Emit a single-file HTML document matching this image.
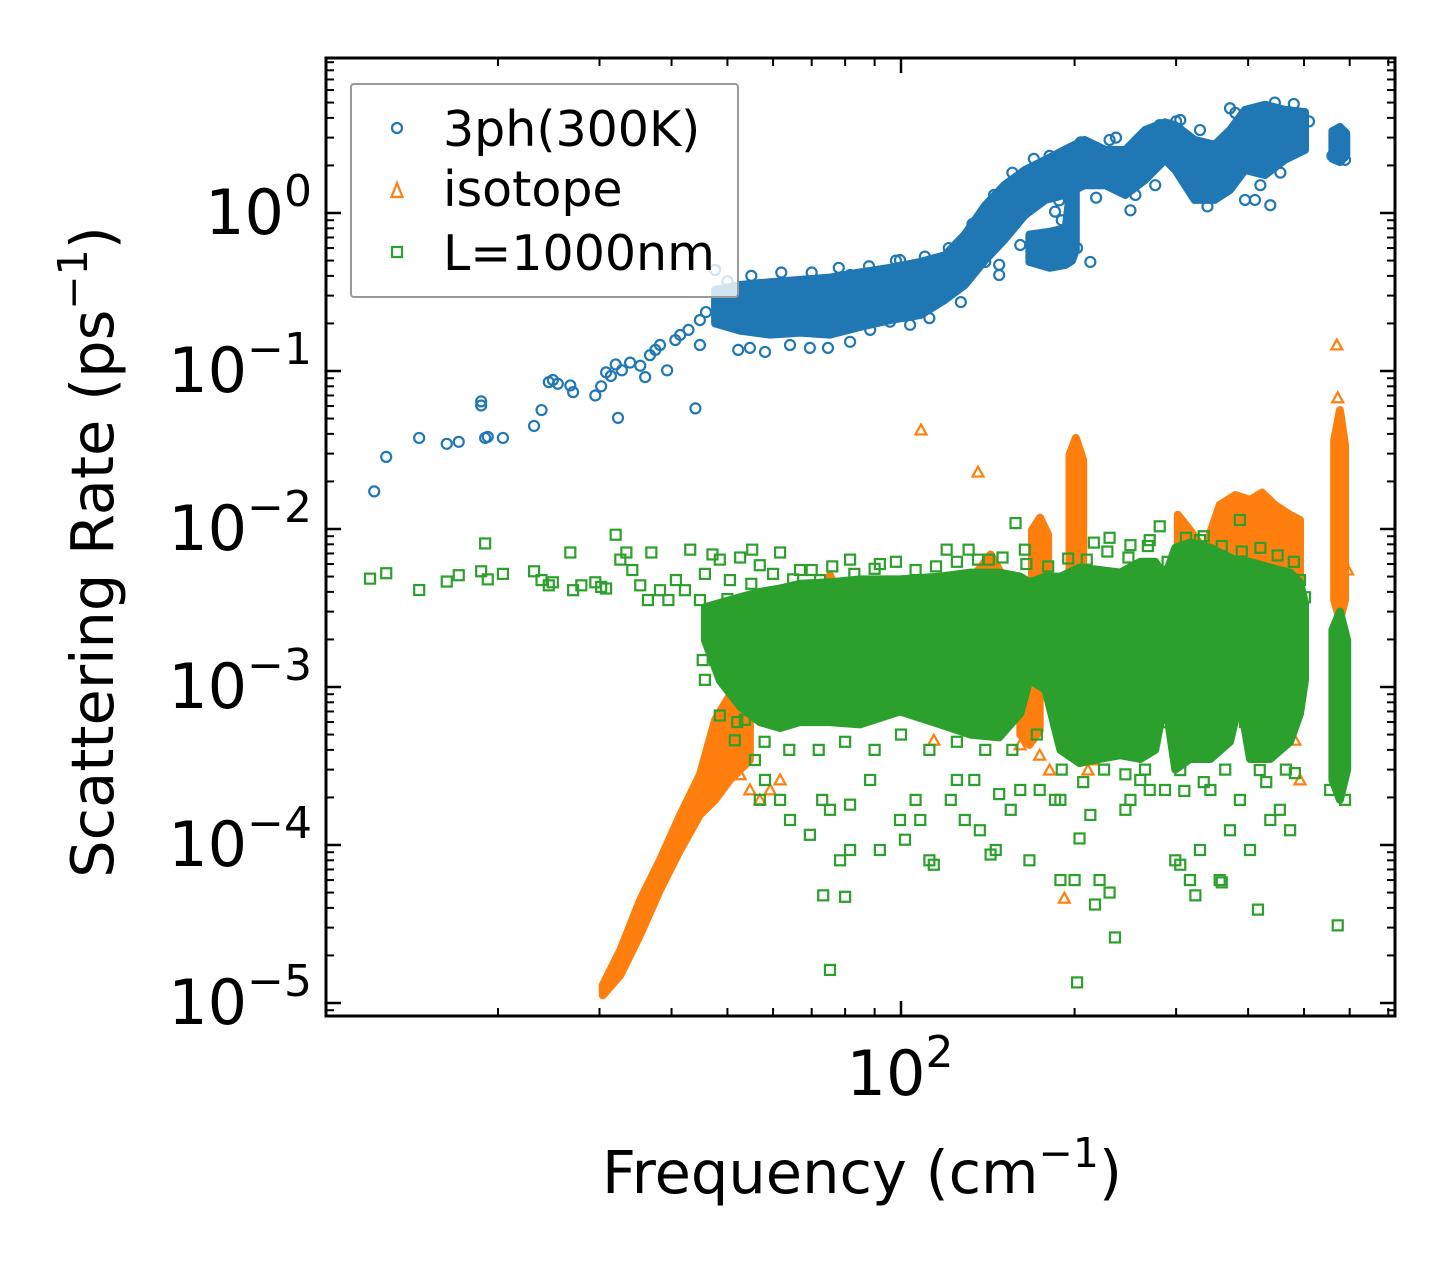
<!DOCTYPE html>
<html><head><meta charset="utf-8"><style>
body{margin:0;background:#fff}
svg{display:block;font-family:"DejaVu Sans","Liberation Sans",sans-serif}
</style></head><body>
<svg id="chart" width="1455" height="1265" viewBox="0 0 1455 1265" xmlns="http://www.w3.org/2000/svg">
<rect width="1455" height="1265" fill="#fff"/>
<g id="marks"></g>
<g id="axes"></g>
</svg>
<script>
// ---------- data ----------
const blueBandFreq=[47.6,52.6,59.3,66.8,75.3,84.9,95.7,108,119,129,140,151,164,178,192,208,226,245,265,287,299,323,350,372,395,428,463,502];
const blueBandHi=[0.326,0.35,0.365,0.377,0.39,0.42,0.45,0.49,0.54,0.73,1.12,1.5,1.87,2.17,2.51,2.9,2.51,2.51,3.35,3.75,3.6,2.9,2.7,3.35,4.49,4.85,4.49,4.35];
const blueBandLo=[0.2,0.18,0.17,0.175,0.17,0.19,0.21,0.226,0.281,0.35,0.504,0.675,0.97,1.21,1.3,1.5,1.5,1.3,1.62,2.17,1.87,1.21,1.21,1.4,1.87,1.74,2.17,2.51];
const blueLoopFreq=[167,181,193,198,201];
const blueLoopHi=[0.73,0.76,0.8,1.8,2.0];
const blueLoopLo=[0.49,0.45,0.47,0.5,0.583];
const blueEdgeFreq=[560,577,592];
const blueEdgeHi=[3.3,3.5,3.2];
const blueEdgeLo=[2.2,2.1,2.3];
const blueFreq=[12.2,12.8,14.6,16.3,17.1,18.7,18.7,19.0,19.2,20.4,23.1,23.8,24.5,24.9,25.4,26.7,27.0,29.5,30.2,30.8,31.4,32.0,32.3,32.8,33.9,35.3,36.0,36.7,37.5,38.2,39.3,40.6,41.4,42.8,44.0,44.8,44.8,45.9,47.6,48.9,50.5,52.2,54.7,58.1,64.2,69.5,74.7,81.6,88.4,95.7,103.7,112,117,127,140,148,161,174,185,213,202,250,276,287,311,350,395,411,437,403,445,372,473,492,305,281,181,196,230,260,330,577,589,560,148,99.6,81.6,72.4,56.9,59.3,91.9,
50,55,62,70,78,88,98,110,121,133,145,156,170,185,188,190,205,218,236,255,300,340,380,420,455,480,510];
const blueRate=[0.0173,0.0286,0.0377,0.0346,0.0356,0.0642,0.0605,0.0377,0.0383,0.0377,0.0449,0.0566,0.085,0.0877,0.083,0.081,0.0735,0.07,0.08,0.098,0.093,0.11,0.0505,0.101,0.113,0.108,0.0915,0.126,0.136,0.146,0.101,0.157,0.169,0.182,0.058,0.21,0.146,0.236,0.436,0.281,0.226,0.136,0.14,0.132,0.146,0.14,0.14,0.153,0.182,0.205,0.196,0.216,0.316,0.273,0.49,0.405,0.627,0.504,1.02,0.49,0.6,1.04,1.5,2.58,2.51,1.5,1.21,1.21,1.12,2.9,5.0,4.6,4.17,4.17,3.88,3.6,2.3,2.3,2.9,2.33,3.35,3.1,2.17,2.3,0.47,0.504,0.405,0.35,0.35,0.182,0.262,
0.37,0.4,0.42,0.42,0.45,0.46,0.5,0.53,0.6,0.85,1.3,1.8,2.2,0.75,1.2,0.9,2.8,1.25,3.0,1.3,3.8,1.1,4.3,1.5,1.8,4.9,3.8];

const orangeBandFreq=[[30.4,32.6,35.3,38.2,41.4,44.8,47.6,50.5,54.7],[196,201,207],[168.7,174.2,180],[302,317,336,357,380,403,423,445,473,492],[564,577,589],[73,75.3,77.8],[134,143,151.5],[161,167,174]];
const orangeBandHi=[[1.3e-5,2.16e-5,4.49e-5,8.04e-5,1.55e-4,2.78e-4,6.2e-4,8.9e-4,9.6e-4],[0.0295,0.0377,0.0273],[0.00986,0.0118,0.0092],[0.0123,0.00986,0.00736,0.0142,0.0164,0.0153,0.017,0.0142,0.0123,0.0114],[0.0366,0.0566,0.034],[0.0041,0.0051,0.0038],[0.0051,0.0069,0.00475],[0.00111,0.00111,0.00111]];
const orangeBandLo=[[1.12e-5,1.5e-5,2.7e-5,5.19e-5,9.3e-5,1.55e-4,1.93e-4,2.58e-4,3.45e-4],[0.00198,0.00171,0.00198],[0.00198,0.00198,0.00198],[0.00148,0.00148,0.00148,0.00148,0.00148,0.00148,0.00148,0.00148,0.00148,0.00148],[0.00355,0.00265,0.00355],[0.00111,0.00111,0.00111],[0.00096,0.00096,0.00096],[0.0005,0.00043,0.00053]];
const orangeFreq=[108.3,136,570,572,192,211,216,181,492,482,463,583,595,61.7,59.3,56.9,54.7,52.6,72.4,148,174,161,260,127,114];
const orangeRate=[0.0423,0.0229,0.146,0.0676,4.6e-5,2.98e-4,3.45e-4,2.98e-4,2.58e-4,4.6e-4,9.6e-4,0.0064,0.0055,2.58e-4,2.23e-4,1.93e-4,2.23e-4,2.78e-4,0.00307,0.00475,3.7e-4,4.3e-4,5.3e-4,5.8e-4,4.6e-4];

const greenBandFreq=[[45.7,48.5,52.6,56.9,61.7,66.8,75.3,84.9,99.6,117,132,148,161,167,178,189,204,221,240,260,276,287,299,317,344,372,387,403,437,473,492,502],[560,577,594]];
const greenBandHi=[[0.0032,0.0034,0.0037,0.004,0.0042,0.0045,0.0046,0.0048,0.0048,0.005,0.0053,0.0053,0.005,0.0046,0.005,0.005,0.0057,0.0055,0.0053,0.0062,0.0062,0.005,0.0076,0.0082,0.0076,0.0066,0.0062,0.0062,0.0057,0.0053,0.0046,0.0034],[0.0023,0.003,0.00198]];
const greenBandLo=[[0.00198,0.0011,0.00075,0.0006,0.00055,0.0006,0.0006,0.00058,0.0007,0.00058,0.0005,0.00048,0.00068,0.00111,0.00096,0.0004,0.00033,0.00035,0.00037,0.00035,0.0004,0.00083,0.0003,0.00035,0.00035,0.00045,0.00083,0.00035,0.00035,0.00045,0.00068,0.00111],[0.000258,0.000193,0.0003]];
const greenFreq=[12.0,12.8,14.6,16.3,17.1,18.7,19.0,19.2,20.4,23.1,23.8,24.5,24.9,26.7,27.0,27.9,29.5,30.2,30.8,32.0,32.6,33.4,34.2,35.3,36.4,36.9,38.2,39.5,40.7,42.2,43.1,44.8,45.7,47.1,48.5,50.5,52.6,55.2,56.9,61.7,66.8,72.4,81.6,91.9,
46.7,45.3,45.7,47.6,48.5,51.5,53.6,55.8,58.1,61.7,64.2,69.5,73.0,75.3,78.4,80.0,73.3,81.6,88.4,91.9,99.6,101.6,106,108,112,114,122,125,129,134,137,143,146,155,161,167,174,185,189,200,202,204,213,217,221,230,235,245,250,260,270,287,299,305,317,324,330,344,357,360,372,387,403,416,437,454,473,482,492,572,589,555,189,148,75.3,81.6,56.9,305,419,
158,281,250,216,196,142,120,131,164,270,330,387,230,492,502,492,492,
50,55,60,65,70,76,83,90,98,106,115,125,136,150,165,180,195,210,228,248,268,290,312,335,360,390,420,450,480,
52,58,64,72,80,90,100,112,125,140,156,172,190,207,225,245,265,285,310,335,365,395,430,465];
const greenRate=[0.00485,0.00525,0.00411,0.00465,0.0051,0.0054,0.0081,0.0048,0.0052,0.0054,0.00475,0.0044,0.0046,0.0071,0.0041,0.0044,0.0046,0.0043,0.0042,0.0092,0.0064,0.0071,0.0055,0.0044,0.00355,0.0071,0.0041,0.00355,0.00475,0.0041,0.0074,0.00355,0.0052,0.0069,0.0064,0.00475,0.0066,0.0074,0.0059,0.0071,0.0055,0.00475,0.0064,0.006,
0.00198,0.00148,0.00111,0.00148,0.00066,0.00046,0.00062,0.000345,0.000258,0.000193,0.000144,0.000116,0.000193,0.000167,8.0e-5,4.7e-5,4.8e-5,9.3e-5,0.000258,9.3e-5,0.000144,0.000108,0.000193,0.000144,8.0e-5,7.5e-5,0.000193,0.000258,0.000144,0.000258,0.000124,8.7e-5,9.3e-5,0.000167,0.000223,8.0e-5,0.000223,0.000193,6.0e-5,6.0e-5,1.35e-5,0.00011,0.000155,4.2e-5,6.0e-5,5.0e-5,2.6e-5,0.000167,0.000193,0.000258,0.000223,0.000223,8.0e-5,7.5e-5,6.0e-5,4.8e-5,9.3e-5,0.000223,6.0e-5,5.8e-5,0.000124,0.000193,9.3e-5,3.9e-5,0.000144,0.000167,0.000124,0.000285,0.00096,3.1e-5,0.000193,0.000223,0.000193,0.00021,1.62e-5,0.00018,0.000193,0.000298,0.000298,
0.0109,0.0104,0.0079,0.0082,0.00475,0.0064,0.0074,0.0074,0.0074,0.0085,0.0085,0.0114,0.0088,0.00475,0.0037,0.00265,0.00138,
0.0036,0.0045,0.0052,0.0048,0.0055,0.0058,0.0052,0.0056,0.0062,0.0055,0.0058,0.0062,0.0064,0.0066,0.006,0.0058,0.0065,0.0064,0.0072,0.0066,0.0078,0.0062,0.0088,0.009,0.0078,0.0072,0.0076,0.0068,0.0062,
0.0006,0.00045,0.0004,0.0004,0.00045,0.0004,0.0005,0.0004,0.00045,0.0004,0.0004,0.0005,0.0003,0.00025,0.0003,0.00028,0.0003,0.0006,0.00022,0.00025,0.0003,0.0006,0.00025,0.0003];

const yTickExps=[0,-1,-2,-3,-4,-5];
const yTickLabels=["0","−1","−2","−3","−4","−5"];
const xMajorTicks=[100];
const xMinorTicks=[20,30,40,50,60,70,80,90,200,300,400,500,600,700];

// ---------- axes ----------
const L=326,R=1395,T=58,B=1016;
const X=f=>901+576.6*(Math.log10(f)-2);
const Y=r=>213-158*Math.log10(r);
const NS='http://www.w3.org/2000/svg';
const marks=document.getElementById('marks');
const axes=document.getElementById('axes');
function mk(tag,attrs,parent){const e=document.createElementNS(NS,tag);for(const k in attrs)e.setAttribute(k,attrs[k]);parent.appendChild(e);return e;}

const cp=mk('clipPath',{id:'clip'},document.getElementById('chart'));
mk('rect',{x:L,y:T,width:R-L,height:B-T},cp);
marks.setAttribute('clip-path','url(#clip)');

function band(fr,hi,lo,color,g,name){
  let pts=[];
  for(let i=0;i<fr.length;i++)pts.push(X(fr[i]).toFixed(1)+','+Y(hi[i]).toFixed(1));
  for(let i=fr.length-1;i>=0;i--)pts.push(X(fr[i]).toFixed(1)+','+Y(lo[i]).toFixed(1));
  const p=mk('polygon',{points:pts.join(' '),fill:color,stroke:color,'stroke-width':8,'stroke-linejoin':'round'},g);
  
  
}
function circle(x,y,g){const c=mk('circle',{cx:x,cy:y,r:5,fill:'none',stroke:'#1f77b4','stroke-width':2.2},g);
  
  }
function tri(x,y,g,color){const s=5.5;const p=mk('polygon',{points:`${x},${y-s} ${x-s},${y+s*0.8} ${x+s},${y+s*0.8}`,fill:'none',stroke:color,'stroke-width':2.2},g);
  
  }
function sq(x,y,g){const p=mk('rect',{x:x-5,y:y-5,width:10,height:10,fill:'none',stroke:'#2ca02c','stroke-width':2.2},g);
  
  }

const gB=mk('g',{},marks);


band(blueBandFreq,blueBandHi,blueBandLo,'#1f77b4',gB,'band-3ph');
band(blueLoopFreq,blueLoopHi,blueLoopLo,'#1f77b4',gB,'band-3ph-loop');
band(blueEdgeFreq,blueEdgeHi,blueEdgeLo,'#1f77b4',gB,'band-3ph-edge');
for(let i=0;i<blueFreq.length;i++)circle(X(blueFreq[i]),Y(blueRate[i]),gB);

const gO=mk('g',{},marks);


for(let k=0;k<orangeBandFreq.length;k++)band(orangeBandFreq[k],orangeBandHi[k],orangeBandLo[k],'#ff7f0e',gO,'band-isotope');
for(let i=0;i<orangeFreq.length;i++)tri(X(orangeFreq[i]),Y(orangeRate[i]),gO,'#ff7f0e');

const gG=mk('g',{},marks);


for(let k=0;k<greenBandFreq.length;k++)band(greenBandFreq[k],greenBandHi[k],greenBandLo[k],'#2ca02c',gG,'band-boundary');
for(let i=0;i<greenFreq.length;i++)sq(X(greenFreq[i]),Y(greenRate[i]),gG);

function tick(x1,y1,x2,y2,w){mk('line',{x1,y1,x2,y2,stroke:'#000','stroke-width':w},axes);}
for(const e of yTickExps){
  const y=Y(Math.pow(10,e));
  tick(L,y,L+15,y,2.5);tick(R,y,R-15,y,2.5);
  for(let m=2;m<=9;m++){const ym=Y(m*Math.pow(10,e));if(ym>T&&ym<B){tick(L,ym,L+8,ym,2);tick(R,ym,R-8,ym,2);}}
}
for(let m=2;m<=9;m++){const ym=Y(m*Math.pow(10,-6));if(ym>T&&ym<B){tick(L,ym,L+8,ym,2);tick(R,ym,R-8,ym,2);}}
for(const f of xMajorTicks){const x=X(f);tick(x,B,x,B-15,2.5);tick(x,T,x,T+15,2.5);}
for(const f of xMinorTicks){const x=X(f);if(x<R){tick(x,B,x,B-8,2);tick(x,T,x,T+8,2);}}
mk('rect',{x:L,y:T,width:R-L,height:B-T,fill:'none',stroke:'#000','stroke-width':3},axes);

yTickExps.forEach((e,i)=>{
  const y=Y(Math.pow(10,e));
  const t=mk('text',{x:312,y:y+21,'text-anchor':'end','font-size':62},axes);
  
  
  t.innerHTML='10<tspan dy="-28" font-size="44">'+yTickLabels[i]+'</tspan>';
});
xMajorTicks.forEach(f=>{
  const t=mk('text',{x:X(f)+-1,y:1095,'text-anchor':'middle','font-size':62},axes);
  
  
  t.innerHTML='10<tspan dy="-28" font-size="44">2</tspan>';
});
</script>
<svg style="position:absolute;left:0;top:0" width="1455" height="1265">
<text x="862" y="1193" text-anchor="middle" font-size="59" font-family="DejaVu Sans, Liberation Sans, sans-serif">Frequency (cm<tspan dy="-26" font-size="41">−1</tspan><tspan dy="26">)</tspan></text>
<text transform="translate(113,552) rotate(-90)" text-anchor="middle" font-size="59" font-family="DejaVu Sans, Liberation Sans, sans-serif">Scattering Rate (ps<tspan dy="-26" font-size="41">−1</tspan><tspan dy="26">)</tspan></text>
<g>
<rect x="351" y="84" width="387" height="213" fill="#fff" fill-opacity="0.8" stroke="#999" stroke-width="2" rx="3"/>
<circle cx="397" cy="128" r="5" fill="none" stroke="#1f77b4" stroke-width="2.2"/>
<text x="443" y="146" font-size="49" font-family="DejaVu Sans, Liberation Sans, sans-serif">3ph(300K)</text>
<polygon points="397,183 391.5,197 402.5,197" fill="none" stroke="#ff7f0e" stroke-width="2.2"/>
<text x="443" y="206" font-size="49" font-family="DejaVu Sans, Liberation Sans, sans-serif">isotope</text>
<rect x="392" y="247" width="10" height="10" fill="none" stroke="#2ca02c" stroke-width="2.2"/>
<text x="443" y="270" font-size="49" font-family="DejaVu Sans, Liberation Sans, sans-serif">L=1000nm</text>
</g>
</svg>
</body></html>
